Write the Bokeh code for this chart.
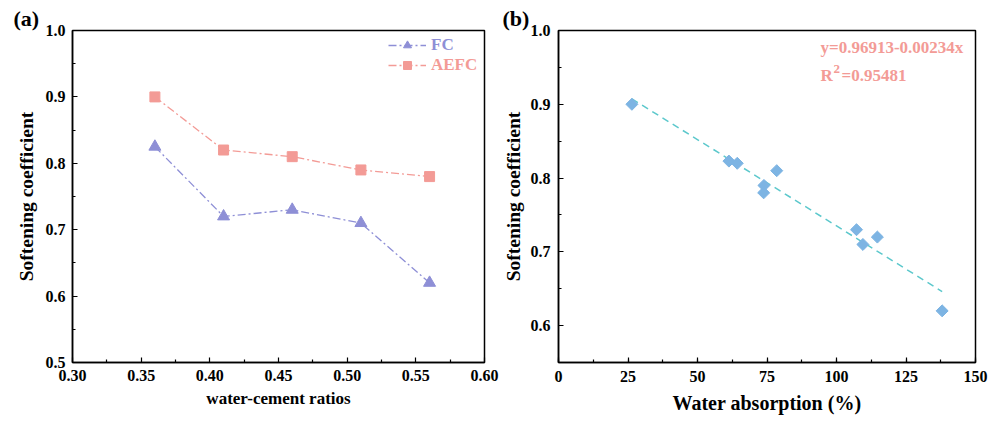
import math
from bokeh.plotting import figure
from bokeh.models import (Label, Legend, LegendItem, SingleIntervalTicker, FixedTicker,
                          Range1d, NumeralTickFormatter)
from bokeh.layouts import row
from bokeh.embed import file_html
from bokeh.resources import INLINE

# ---- data ----
wc_ratios = [0.36, 0.41, 0.46, 0.51, 0.56]
fc_soft = [0.825, 0.72, 0.73, 0.71, 0.62]
aefc_soft = [0.90, 0.82, 0.81, 0.79, 0.78]
wc_ticks = [0.30, 0.35, 0.40, 0.45, 0.50, 0.55, 0.60]

water_abs = [26.4, 61.3, 64.3, 73.9, 73.8, 78.5, 107.2, 109.5, 114.7, 138.0]
soft_coef = [0.90, 0.823, 0.82, 0.79, 0.78, 0.81, 0.73, 0.71, 0.72, 0.62]
fit_intercept = 0.96913
fit_slope = -0.00234
eq_text = "y=0.96913-0.00234x"
r2_value_text = "=0.95481"

FONT = "Liberation Serif"
FC_COLOR = "#8e8fd6"
AEFC_COLOR = "#f39b96"
DIA_COLOR = "#7db4e3"
FIT_COLOR = "#5cc8cc"


def style(p, xlabel, ylabel, xlabel_size, ylabel_size, xstand, ystand, xls, yls):
    p.grid.visible = False
    p.outline_line_color = "black"
    p.outline_line_width = 1.5
    p.background_fill_color = "white"
    p.border_fill_color = "white"
    for ax in (p.xaxis[0], p.yaxis[0]):
        ax.axis_line_width = 1.5
        ax.major_tick_in = 5
        ax.major_tick_out = 0
        ax.minor_tick_in = 3
        ax.minor_tick_out = 0
        ax.major_tick_line_width = 1.2
        ax.minor_tick_line_width = 1.2
        ax.major_label_text_font = FONT
        ax.major_label_text_font_style = "bold"
        ax.major_label_text_font_size = "16px"
        ax.major_label_text_color = "black"
        ax.axis_label_text_font = FONT
        ax.axis_label_text_font_style = "bold"
        ax.axis_label_text_color = "black"
    p.xaxis[0].axis_label = xlabel
    p.yaxis[0].axis_label = ylabel
    p.xaxis[0].axis_label_text_font_size = xlabel_size
    p.yaxis[0].axis_label_text_font_size = ylabel_size
    p.xaxis[0].major_label_standoff = xls
    p.yaxis[0].major_label_standoff = yls
    p.xaxis[0].axis_label_standoff = xstand
    p.yaxis[0].axis_label_standoff = ystand


def panel_title(p, text, offset):
    p.title.text = text
    p.title.align = "left"
    p.title.offset = offset
    p.title.standoff = 0
    p.title.text_font = FONT
    p.title.text_font_style = "bold"
    p.title.text_font_size = "22px"
    p.title.text_color = "black"


# ---- panel (a) ----
pa = figure(width=499, height=423, output_backend="svg", toolbar_location=None,
            x_range=Range1d(wc_ticks[0], wc_ticks[-1]), y_range=Range1d(0.5, 1.0),
            min_border_left=72, min_border_right=15, min_border_top=30, min_border_bottom=61)
style(pa, "water-cement ratios", "Softening coefficient", "17px", "19.5px", 5, 6, 7, 7)
wc_minor = [(a + b) / 2 for a, b in zip(wc_ticks[:-1], wc_ticks[1:])]
pa.xaxis[0].ticker = FixedTicker(ticks=wc_ticks, minor_ticks=wc_minor)
pa.yaxis[0].ticker = SingleIntervalTicker(interval=0.1, num_minor_ticks=2)
pa.xaxis[0].formatter = NumeralTickFormatter(format="0.00")
pa.yaxis[0].formatter = NumeralTickFormatter(format="0.0")
panel_title(pa, "(a)", -59)

l1 = pa.line(wc_ratios, fc_soft, line_color=FC_COLOR, line_width=1.3, line_dash="8 3 2 3")
s1 = pa.scatter(wc_ratios, fc_soft, marker="triangle", size=12, fill_color=FC_COLOR, line_color=FC_COLOR)
l2 = pa.line(wc_ratios, aefc_soft, line_color=AEFC_COLOR, line_width=1.3, line_dash="8 3 2 3")
s2 = pa.scatter(wc_ratios, aefc_soft, marker="square", size=10, fill_color=AEFC_COLOR, line_color=AEFC_COLOR)

for label, rends, color, ybot in (("FC", [l1, s1], FC_COLOR, 307), ("AEFC", [l2, s2], AEFC_COLOR, 287)):
    lg = Legend(items=[LegendItem(label=label, renderers=rends)], location=(316, ybot),
                border_line_color=None, background_fill_alpha=0, padding=0, margin=0,
                glyph_width=38, glyph_height=20, label_height=20, label_standoff=5,
                label_text_font=FONT, label_text_font_style="bold", label_text_font_size="17px",
                label_text_color=color)
    pa.add_layout(lg)

# ---- panel (b) ----
pb = figure(width=498, height=423, output_backend="svg", toolbar_location=None,
            x_range=Range1d(0, 150), y_range=Range1d(0.55, 1.0),
            min_border_left=59, min_border_right=22, min_border_top=30, min_border_bottom=59)
style(pb, "Water absorption (%)", "Softening coefficient", "20px", "19.5px", 7, 4, 8, 8)
pb.xaxis[0].ticker = SingleIntervalTicker(interval=25, num_minor_ticks=2)
pb.yaxis[0].ticker = SingleIntervalTicker(interval=0.1, num_minor_ticks=2)
pb.yaxis[0].formatter = NumeralTickFormatter(format="0.0")
panel_title(pb, "(b)", -56)

fit_x = [min(water_abs), max(water_abs)]
fit_y = [fit_intercept + fit_slope * v for v in fit_x]
pb.line(fit_x, fit_y, line_color=FIT_COLOR, line_width=1.5, line_dash="7 5")
pb.scatter(water_abs, soft_coef, marker="square", angle=math.pi / 4, size=8.5,
           fill_color=DIA_COLOR, line_color=DIA_COLOR)

eq_style = dict(x_units="screen", y_units="screen", text_font=FONT, text_font_style="bold",
                text_color=AEFC_COLOR, text_baseline="middle", text_align="left")
pb.add_layout(Label(x=262, y=315, text=eq_text, text_font_size="17px", **eq_style))
pb.add_layout(Label(x=262, y=287, text="R", text_font_size="17px", **eq_style))
pb.add_layout(Label(x=275, y=294, text="2", text_font_size="13px", **eq_style))
pb.add_layout(Label(x=283, y=287, text=r2_value_text, text_font_size="17px", **eq_style))

layout = row(pa, pb)
open("out.html", "w").write(file_html(layout, INLINE))
